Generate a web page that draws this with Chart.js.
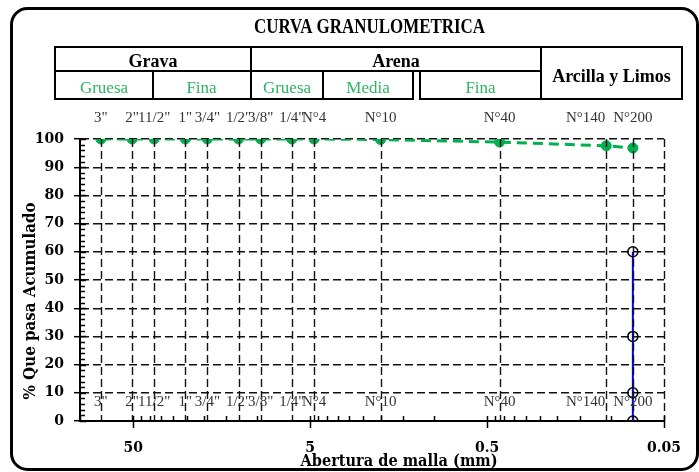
<!DOCTYPE html>
<html><head><meta charset="utf-8">
<script src="https://cdn.jsdelivr.net/npm/chart.js@4.4.0/dist/chart.umd.min.js"></script>
<style>html,body{margin:0;padding:0;background:#fff;overflow:hidden}#wrap{width:699px;height:472px}</style>
</head><body><div id="wrap"><canvas id="c" width="699" height="472"></canvas></div>
<script>
// ---- data ----
const sieveLabels = ['3"', '2"', '11/2"', '1"', '3/4"', '1/2"', '3/8"', '1/4"', 'N°4', 'N°10', 'N°40', 'N°140', 'N°200'];
const sieveSizes = [76.2, 50.8, 38.1, 25.4, 19.05, 12.7, 9.525, 6.35, 4.75, 2.0, 0.425, 0.106, 0.075];
const percentPassing = [100, 100, 100, 100, 100, 100, 100, 100, 100, 99.8, 98.9, 97.6, 96.8];
const limitSizes = [0.075, 0.075, 0.075, 0.075];
const limitValues = [60, 30, 10, 0];
const xMajorValues = [50, 5, 0.5, 0.05];
const xMajorLabels = ['50', '5', '0.5', '0.05'];
const yTickStep = 10;
const headerTitle = 'CURVA GRANULOMETRICA';
const groupLabels = ['Grava', 'Arena', 'Arcilla y Limos'];
const subLabels = ['Gruesa', 'Fina', 'Gruesa', 'Media', 'Fina'];
const xTitle = 'Abertura de malla (mm)';
const yTitle = '% Que pasa Acumulado';

// label alignment style (N°140 label sits to the left of its point)
const sieveLabelAlign = { 'N°140': 'right' };

// log-axis tick positions (Excel style: base value 0.05, minor ticks k*base)
const xTickValues = [];
for (let n = 0; n < 4; n++) for (let k = 1; k <= 9; k++) {
  const v = +(0.05 * k * Math.pow(10, n)).toPrecision(6);
  if (v <= 100) xTickValues.push(v);
}
const isMajor = v => xMajorValues.some(m => Math.abs(m - v) / m < 1e-6);

const SERIF = '"Liberation Serif", "DejaVu Serif", serif';
const NUMF = '"DejaVu Serif", serif';

const decor = {
  id: 'decor',
  beforeDraw(chart) {
    const c = chart.ctx; c.save(); c.fillStyle = '#fff'; c.fillRect(0, 0, chart.width, chart.height); c.restore();
  },
  afterDatasetsDraw(chart) {
    const c = chart.ctx, xs = chart.scales.x, ys = chart.scales.y;
    const top = ys.getPixelForValue(100), bot = ys.getPixelForValue(0);
    c.save();
    c.strokeStyle = '#111'; c.lineWidth = 1.4; c.setLineDash([8, 4]);
    sieveSizes.concat([0.05]).forEach(s => {
      const px = Math.round(xs.getPixelForValue(s)) + 0.5;
      c.beginPath(); c.moveTo(px, top); c.lineTo(px, bot); c.stroke();
    });
    c.restore();
  },
  afterDraw(chart) {
    const c = chart.ctx, xs = chart.scales.x, ys = chart.scales.y, a = chart.chartArea;
    c.save();
    // x-axis tick marks
    c.strokeStyle = '#000'; c.lineWidth = 1.5; c.setLineDash([]);
    xTickValues.forEach(v => {
      const px = Math.round(xs.getPixelForValue(v)) + 0.5;
      c.beginPath();
      if (isMajor(v)) { c.moveTo(px, a.bottom - 5); c.lineTo(px, a.bottom + 7); }
      else { c.moveTo(px, a.bottom); c.lineTo(px, a.bottom - 5); }
      c.stroke();
    });
    // y-axis minor/inner ticks
    for (let v = 0; v <= 100; v += 2) {
      const py = Math.round(ys.getPixelForValue(v)) + 0.5;
      c.beginPath(); c.moveTo(a.left, py); c.lineTo(a.left + (v % 10 === 0 ? 6 : 5), py); c.stroke();
    }
    // sieve labels (top row and lower row)
    c.fillStyle = '#333'; c.font = '15px ' + SERIF; c.textBaseline = 'middle';
    sieveSizes.forEach((s, i) => {
      const lab = sieveLabels[i];
      let px = xs.getPixelForValue(s);
      c.textAlign = sieveLabelAlign[lab] || 'center';
      if (c.textAlign === 'right') px -= 1;
      c.fillText(lab, px, a.top - 21);
      c.fillText(lab, px, ys.getPixelForValue(6.7));
    });
    c.textAlign = 'center';
    // axis titles
    c.fillStyle = '#000'; c.font = 'bold 17px ' + NUMF; c.textBaseline = 'middle';
    c.fillText(xTitle, 399, 462, 197);
    c.save(); c.translate(31, 301); c.rotate(-Math.PI / 2);
    c.fillText(yTitle, 0, 0, 197); c.restore();
    // header title
    c.textBaseline = 'alphabetic';
    c.font = 'bold 21px ' + SERIF;
    c.fillText(headerTitle, 369.5, 33, 231);
    // header table
    c.lineWidth = 2; c.strokeStyle = '#000';
    const L = (x1, y1, x2, y2) => { c.beginPath(); c.moveTo(x1, y1); c.lineTo(x2, y2); c.stroke(); };
    L(54, 47, 683, 47); L(55, 46, 55, 100); L(682, 46, 682, 100);
    L(55, 71, 541, 71); L(54, 99, 414, 99); L(419, 99, 683, 99);
    L(251, 47, 251, 99); L(541, 47, 541, 99); L(153, 71, 153, 99);
    L(323, 71, 323, 99); L(413, 71, 413, 99); L(420, 71, 420, 99);
    c.font = 'bold 18px ' + SERIF; c.fillStyle = '#000';
    c.fillText(groupLabels[0], 153, 67, 52);
    c.fillText(groupLabels[1], 396, 67, 52);
    c.fillText(groupLabels[2], 611.5, 82, 126);
    c.font = '17px ' + SERIF; c.fillStyle = '#2db562';
    const subX = [104, 201.5, 287, 368, 480.5];
    subLabels.forEach((t, i) => c.fillText(t, subX[i], 93));
    // outer rounded frame
    c.lineWidth = 3; c.strokeStyle = '#000';
    c.beginPath(); c.roundRect(11.5, 8.5, 686, 461, 16); c.stroke();
    c.restore();
  }
};

new Chart(document.getElementById('c'), {
  type: 'scatter',
  data: {
    datasets: [
      {
        label: 'Curva granulométrica',
        data: sieveSizes.map((x, i) => ({ x, y: percentPassing[i] })),
        showLine: true, borderColor: '#00b050', borderWidth: 3, borderDash: [10, 6],
        pointRadius: 5, pointBackgroundColor: '#00b050', pointBorderColor: '#00b050', pointBorderWidth: 1
      },
      {
        label: 'N°200',
        data: limitSizes.map((x, i) => ({ x, y: limitValues[i] })),
        showLine: true, borderColor: '#0000ff', borderWidth: 2,
        pointRadius: 5, pointBackgroundColor: 'rgba(0,0,0,0)', pointBorderColor: '#000', pointBorderWidth: 1.5
      }
    ]
  },
  options: {
    responsive: false, animation: false, events: [],
    layout: { padding: { left: 0, right: 35, top: 139, bottom: 0 } },
    plugins: { legend: { display: false }, tooltip: { enabled: false } },
    scales: {
      x: {
        type: 'logarithmic', reverse: true, min: 0.05, max: 100,
        afterBuildTicks: s => { s.ticks = xTickValues.map(v => ({ value: v })); },
        afterFit: s => { s.height = 51; },
        ticks: {
          autoSkip: false, maxRotation: 0, minRotation: 0, padding: 19, color: '#000',
          font: { family: NUMF, size: 14, weight: 'bold' },
          callback: v => { const i = xMajorValues.findIndex(m => Math.abs(m - v) / m < 1e-6); return i >= 0 ? xMajorLabels[i] : ''; }
        },
        grid: { display: false, drawTicks: false, tickLength: 0 },
        border: { display: true, color: '#000', width: 2 }
      },
      y: {
        min: 0, max: 100,
        afterFit: s => { s.width = 80; },
        ticks: { stepSize: yTickStep, padding: 10, color: '#000', font: { family: NUMF, size: 14, weight: 'bold' } },
        grid: { color: '#111', lineWidth: 1.4, tickLength: 6, drawTicks: true, tickColor: '#000', tickWidth: 1.5 },
        border: { display: true, color: '#000', width: 2, dash: [8, 4] }
      }
    }
  },
  plugins: [decor]
});
</script></body></html>
